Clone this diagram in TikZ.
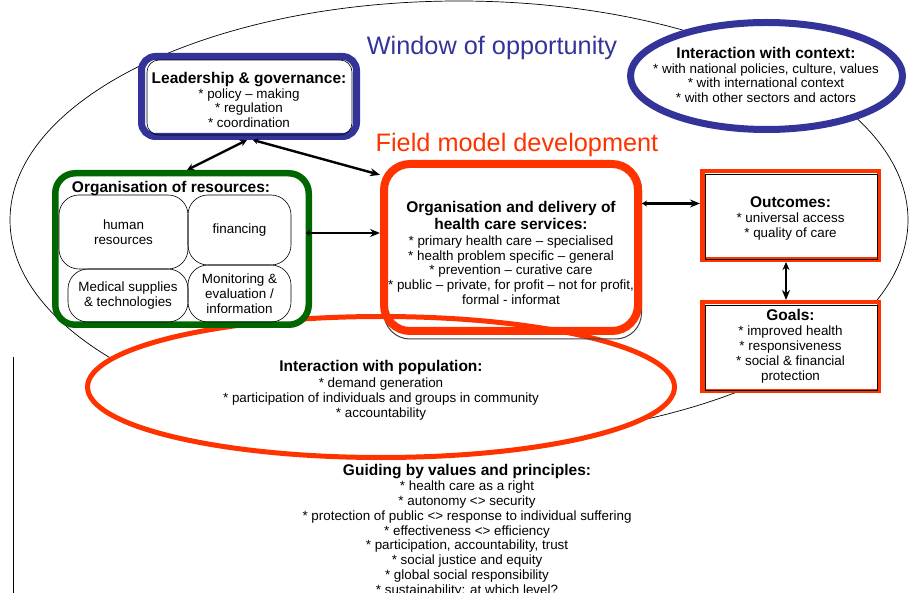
\documentclass[tikz,border=0pt]{standalone}
\usepackage{fontspec}
\setmainfont{Liberation Sans}
\usetikzlibrary{arrows.meta,shapes.geometric}
\definecolor{navy}{HTML}{333399}
\definecolor{redor}{HTML}{FF3300}
\definecolor{dgreen}{HTML}{006600}
\newcommand\bt[1]{{\fontsize{15.5}{17}\selectfont\bfseries #1}}
\tikzset{
  txt/.style={align=center, font=\fontsize{13.4}{14.9}\selectfont, inner sep=0pt},
  subbox/.style={draw, line width=0.6pt, rounded corners=20pt, txt},
  redbox/.style={draw=redor, line width=4.5pt, fill=white, minimum width=176.5pt, minimum height=88.5pt, txt},
  inner/.style={line width=0.6pt},
  arr/.style={line width=2.4pt},
}
\begin{document}
\begin{tikzpicture}[x=1pt,y=-1pt]
\useasboundingbox (0,0) rectangle (910,593);

% window of opportunity ellipse
\node[draw, ellipse, line width=0.7pt, minimum width=898pt, minimum height=438pt, inner sep=0pt] (window) at (459,220) {};

% interaction with population
\node[ellipse, draw=redor, line width=5pt, fill=white, minimum width=587pt, minimum height=141pt, inner sep=0pt] (pop) at (381,387) {};
\node[txt] (poptxt) at (381,390)
  {\bt{Interaction with population:}\\[1pt]* demand generation\\* participation of individuals and groups in community\\* accountability};

% leadership
\node[draw=navy, line width=7pt, rounded corners=14pt, fill=white, minimum width=215pt, minimum height=80pt] (lead) at (249,96.5) {};
\draw[inner, rounded corners=12pt] ([shift={(9,7)}]lead.north west) rectangle ([shift={(-8,-5)}]lead.south east);
\node[txt] (leadtxt) at (249,100) {\bt{Leadership \& governance:}\\* policy – making\\* regulation\\* coordination};

% context
\node[ellipse, draw=navy, line width=7pt, fill=white, minimum width=272pt, minimum height=107pt, inner sep=0pt] (ctx) at (766.5,76) {};
\node[txt] (ctxtxt) at (766,75) {\bt{Interaction with context:}\\* with national policies, culture, values\\* with international context\\* with other sectors and actors};

% organisation of resources
\node[draw=dgreen, line width=6.5pt, rounded corners=20pt, fill=white, minimum width=253.5pt, minimum height=151.5pt] (res) at (182,249) {};
\node[txt] (restitle) at (171,189) {\bt{Organisation of resources:}};
\node[subbox, minimum width=129pt, minimum height=74pt] (hr) at (123.5,232) {human\\resources};
\node[subbox, minimum width=103pt, minimum height=70pt] (fin) at (239.5,230) {financing};
\node[subbox, minimum width=120pt, minimum height=53pt] (med) at (128,295.5) {Medical supplies\\\& technologies};
\node[subbox, minimum width=103pt, minimum height=57pt] (mon) at (239.5,293.5) {Monitoring \&\\evaluation /\\information};

% organisation and delivery
\draw[black!75, line width=1pt, rounded corners=26pt] (384,164) rectangle (641.5,339);
\node[draw=redor, line width=8pt, rounded corners=26pt, minimum width=254pt, minimum height=167pt] (org) at (511,247.5) {};
\node[txt] (orgtxt) at (511,253) {\bt{Organisation and delivery of}\\[2pt]\bt{health care services:}\\[1pt]* primary health care – specialised\\* health problem specific – general\\* prevention – curative care\\* public – private, for profit – not for profit,\\formal - informat};

% outcomes and goals
\node[redbox] (out) at (790.5,215.5) {};
\draw[inner] ([shift={(5,5)}]out.north west) rectangle ([shift={(-4,-3)}]out.south east);
\node[txt] (outtxt) at (790.5,218.5) {\bt{Outcomes:}\\* universal access\\* quality of care};
\node[redbox] (goals) at (790.5,346.5) {\bt{Goals:}\\* improved health\\* responsiveness\\* social \& financial\\protection};
\draw[inner] ([shift={(5,5)}]goals.north west) rectangle ([shift={(-4,-3)}]goals.south east);

% titles
\node[text=navy, font=\fontsize{25.3}{29}\selectfont, inner sep=0pt] (wtitle) at (492,48) {Window of opportunity};
\node[text=redor, font=\fontsize{25.3}{29}\selectfont, inner sep=0pt] (ftitle) at (517,145) {Field model development};

% guiding values
\node[txt, anchor=north] (guide) at (467,464) {\bt{Guiding by values and principles:}\\* health care as a right\\* autonomy <> security\\* protection of public <> response to individual suffering\\* effectiveness <> efficiency\\* participation, accountability, trust\\* social justice and equity\\* global social responsibility\\* sustainability: at which level?};

% connectors
\draw[arr, {Stealth[length=7pt,width=7pt]}-{Stealth[length=7pt,width=7pt]}] ([xshift=-2pt]lead.south) -- ([xshift=5pt]res.north);
\draw[arr, {Stealth[length=5pt,width=6pt]}-{Stealth[length=10pt,width=8pt]}] ([xshift=4pt]lead.south) -- (org.151);
\coordinate (a3) at ([xshift=-6pt,yshift=16pt]res.east);
\draw[arr, {Stealth[length=4pt,width=6pt]}-{Stealth[length=10pt,width=8pt]}] (a3) -- (a3 -| org.west);
\coordinate (a4) at ([yshift=44pt]org.east);
\draw[arr, {Stealth[length=5pt,width=6pt]}-{Stealth[length=10pt,width=8pt]}] (a4) -- (a4 -| out.west);
\draw[arr, {Stealth[length=8pt,width=7pt]}-{Stealth[length=10pt,width=8pt]}] ([xshift=-4.5pt]out.south) -- ([xshift=-4.5pt]goals.north);

% margin rule
\draw[line width=0.7pt] (13,357) -- (13,593);
\end{tikzpicture}
\end{document}
